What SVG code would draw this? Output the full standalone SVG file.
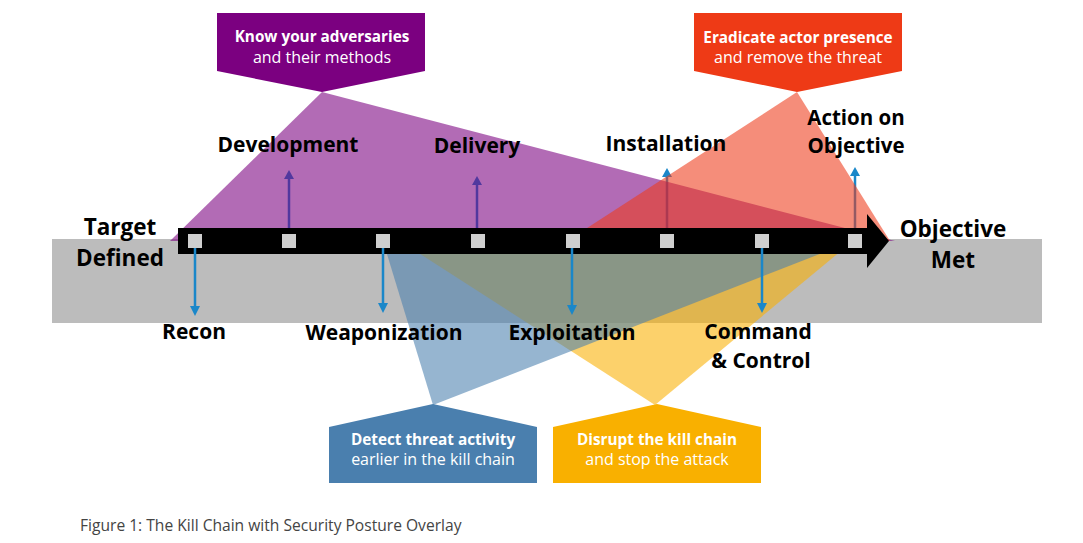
<svg xmlns="http://www.w3.org/2000/svg" width="1083" height="543" viewBox="0 0 1083 543">
<style>
.lbl{font-family:"Open Sans","Liberation Sans",sans-serif;font-weight:700;font-size:21px;fill:#000;text-anchor:middle}
.big{font-size:22.5px}
.act{font-size:20.5px}
.ct{font-family:"Open Sans","Liberation Sans",sans-serif;font-size:16px;fill:#fff;text-anchor:middle}
.ctb{font-weight:700;font-size:15.3px}
.cap{font-family:"Open Sans","Liberation Sans",sans-serif;font-size:15.6px;fill:#444}
.ov{opacity:0.58}
.sq{fill:#cfcfcf}
.ar{stroke:#1a87c9;stroke-width:2.5;fill:none}
.ah{fill:#1a87c9}
</style>
<rect id="band" x="52" y="239" width="990" height="84" fill="#bcbcbc"/>
<g id="connectors-up">
<line class="ar" x1="289" y1="228" x2="289" y2="177"/><polygon class="ah" points="284,179 294,179 289,170"/>
<line class="ar" x1="477" y1="228" x2="477" y2="183"/><polygon class="ah" points="472,185 482,185 477,176"/>
<line class="ar" x1="667" y1="228" x2="667" y2="175"/><polygon class="ah" points="662,177 672,177 667,168"/>
<line class="ar" x1="855" y1="228" x2="855" y2="174"/><polygon class="ah" points="850,176 860,176 855,167"/>
</g>
<g id="overlays">
<polygon class="ov" fill="#7b0080" points="322,92 170,241 895,241"/>
<polygon class="ov" fill="#ee3a1a" points="797,92 567,241 890,241"/>
<polygon class="ov" fill="#f9b000" points="655,405 400,241 853,241"/>
<polygon class="ov" fill="#4a7fae" points="433,405 383,241 853,241"/>
</g>
<g id="chain">
<rect x="178" y="228" width="692" height="26" fill="#000"/>
<polygon points="867,214 889,241 867,268" fill="#000"/>
<rect class="sq" x="188" y="234" width="14" height="14"/>
<rect class="sq" x="282" y="234" width="14" height="14"/>
<rect class="sq" x="376" y="234" width="14" height="14"/>
<rect class="sq" x="471" y="234" width="14" height="14"/>
<rect class="sq" x="566" y="234" width="14" height="14"/>
<rect class="sq" x="660" y="234" width="14" height="14"/>
<rect class="sq" x="755" y="234" width="14" height="14"/>
<rect class="sq" x="848" y="234" width="14" height="14"/>
</g>
<g id="connectors-down">
<line class="ar" x1="195" y1="248" x2="195" y2="308"/><polygon class="ah" points="190,306 200,306 195,316"/>
<line class="ar" x1="383" y1="248" x2="383" y2="305"/><polygon class="ah" points="378,303 388,303 383,313"/>
<line class="ar" x1="572" y1="248" x2="572" y2="307"/><polygon class="ah" points="567,305 577,305 572,315"/>
<line class="ar" x1="762" y1="248" x2="762" y2="305"/><polygon class="ah" points="757,303 767,303 762,313"/>
</g>
<g id="node-target"><text class="lbl big" x="120" y="235">Target</text><text class="lbl big" x="120" y="266">Defined</text></g>
<g id="node-objective"><text class="lbl big" x="953" y="237">Objective</text><text class="lbl big" x="953" y="268">Met</text></g>
<g id="node-recon"><text class="lbl" x="194" y="339">Recon</text></g>
<g id="node-development"><text class="lbl" x="288" y="152">Development</text></g>
<g id="node-weaponization"><text class="lbl" x="384" y="340">Weaponization</text></g>
<g id="node-delivery"><text class="lbl" x="477" y="153">Delivery</text></g>
<g id="node-exploitation"><text class="lbl" x="572" y="340">Exploitation</text></g>
<g id="node-installation"><text class="lbl" x="666" y="151">Installation</text></g>
<g id="node-command"><text class="lbl" x="758" y="339">Command</text><text class="lbl" x="761" y="368">&amp; Control</text></g>
<g id="node-action"><text class="lbl act" x="856" y="125">Action on</text><text class="lbl act" x="856" y="153">Objective</text></g>
<g id="callout-know">
<polygon fill="#7b0080" points="217,13 425,13 425,71 322,92 217,71"/>
<text class="ct ctb" x="322" y="42">Know your adversaries</text>
<text class="ct" x="322" y="63">and their methods</text>
</g>
<g id="callout-eradicate">
<polygon fill="#ee3a16" points="694,13 902,13 902,71 797,92 694,71"/>
<text class="ct ctb" x="798" y="43">Eradicate actor presence</text>
<text class="ct" x="798" y="63">and remove the threat</text>
</g>
<g id="callout-detect">
<polygon fill="#4a7fae" points="433,404 537,427 537,483 329,483 329,427"/>
<text class="ct ctb" x="433" y="445">Detect threat activity</text>
<text class="ct" x="433" y="465">earlier in the kill chain</text>
</g>
<g id="callout-disrupt">
<polygon fill="#f9b000" points="657,404 761,427 761,483 553,483 553,427"/>
<text class="ct ctb" x="657" y="445">Disrupt the kill chain</text>
<text class="ct" x="657" y="465">and stop the attack</text>
</g>
<text class="cap" x="80" y="531">Figure 1: The Kill Chain with Security Posture Overlay</text>
</svg>
